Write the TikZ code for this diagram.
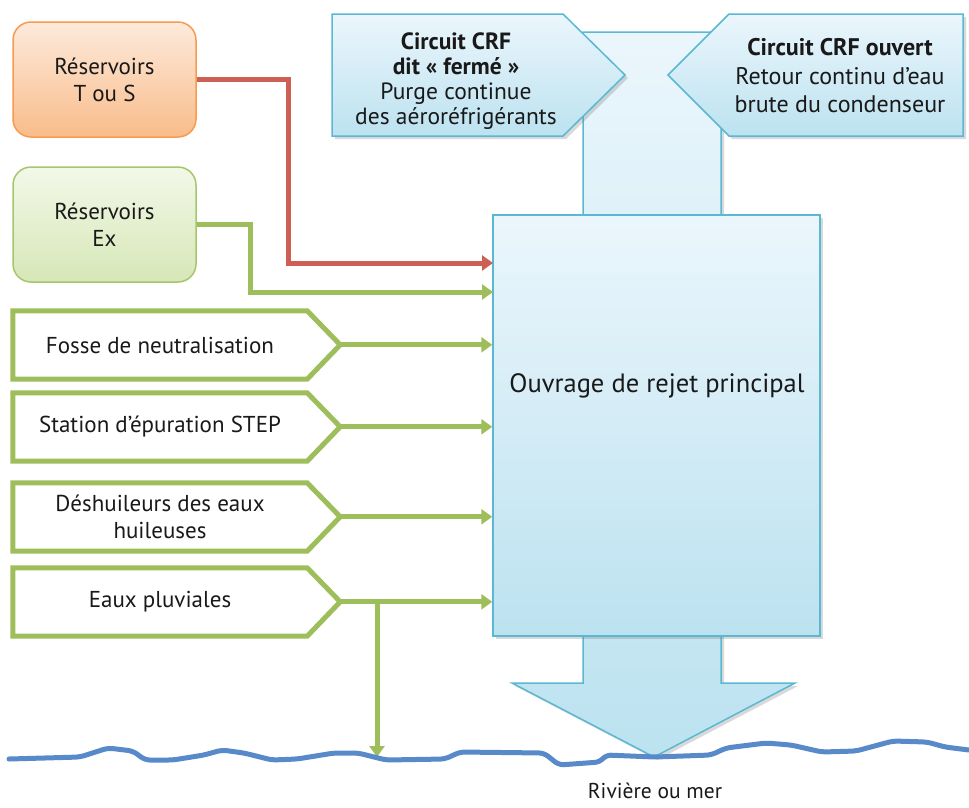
\documentclass[tikz,border=0pt]{standalone}
\usepackage{fontspec}
\setmainfont{PT Sans}
\usetikzlibrary{arrows.meta,shadows}

\definecolor{flowgreen}{RGB}{158,190,92}
\definecolor{flowred}{RGB}{205,95,85}
\definecolor{orangeedge}{RGB}{247,155,80}
\definecolor{orangetop}{RGB}{253,234,220}
\definecolor{orangebot}{RGB}{249,188,138}
\definecolor{greenedge}{RGB}{165,198,110}
\definecolor{greentop}{RGB}{243,248,232}
\definecolor{greenbot}{RGB}{214,231,183}
\definecolor{blueedge}{RGB}{90,184,210}
\definecolor{bluetop}{RGB}{235,246,252}
\definecolor{bluebot}{RGB}{188,226,240}
\definecolor{riverblue}{RGB}{88,138,202}
\definecolor{ink}{RGB}{25,25,25}

\tikzstyle{every node}=[text=ink,align=center,font=\fontsize{23}{27}\selectfont]
\tikzstyle{tank}=[rounded corners=18pt,line width=1.5pt,minimum width=183pt,minimum height=115pt]
\tikzstyle{tankTS}=[tank,draw=orangeedge,top color=orangetop,bottom color=orangebot]
\tikzstyle{tankEx}=[tank,draw=greenedge,top color=greentop,bottom color=greenbot]
\tikzstyle{source}=[minimum width=294pt,minimum height=68pt,inner sep=0pt]
\tikzstyle{sourceline}=[draw=flowgreen,line width=5pt,line join=miter]
\tikzstyle{flow}=[line width=5pt,-{Triangle[length=11pt,width=15pt]}]
\tikzstyle{greenflow}=[flow,draw=flowgreen]
\tikzstyle{redflow}=[flow,draw=flowred]
\tikzstyle{bluebox}=[draw=blueedge,line width=1.5pt,top color=bluetop,bottom color=bluebot,
  drop shadow={opacity=0.3,shadow xshift=3pt,shadow yshift=-3pt}]
\tikzstyle{river}=[draw=riverblue,line width=5pt,line join=round,line cap=round,rounded corners=5pt]

\begin{document}
\begin{tikzpicture}[x=1pt,y=-1pt]
  \useasboundingbox (0,0) rectangle (969,807);

  % outfall column and arrow, behind everything
  \path[bluebox] (583,32) -- (721,32) -- (721,683) -- (795,683) -- (654,757)
    -- (512,683) -- (583,683) -- cycle;

  % cooling circuit inputs
  \path[bluebox] (332,14) -- (563,14) -- (625,75) -- (563,136) -- (332,136) -- cycle;
  \path[bluebox] (963,14) -- (729,14) -- (668,75) -- (729,136) -- (963,136) -- cycle;
  \node[font=\fontsize{23.5}{25}\selectfont] (ferme) at (456,81)
    {\textbf{Circuit CRF}\\\textbf{dit « fermé »}\\Purge continue\\des aéroréfrigérants};
  \node[font=\fontsize{24}{28.5}\selectfont] (ouvert) at (840,76)
    {\textbf{Circuit CRF ouvert}\\Retour continu d’eau\\brute du condenseur};

  \node[bluebox,minimum width=327pt,minimum height=421pt] (main) at (656.5,425.5) {};
  \node[font=\fontsize{26.5}{30}\selectfont] (mainlabel) at (657,386) {Ouvrage de rejet principal};

  % reservoirs
  \node[tankTS] (tous) at (104.5,79.5) {Réservoirs\\T ou S};
  \node[tankEx] (ex) at (104.5,224.5) {Réservoirs\\Ex};

  % treatment units
  \node[source] (fosse) at (160,345) {Fosse de neutralisation};
  \node[source] (step) at (160,427) {Station d’épuration STEP};
  \node[source] (deshuil) at (160,517) {\fontsize{23}{26}\selectfont Déshuileurs des eaux\\huileuses};
  \node[source] (pluv) at (160,602) {Eaux pluviales};
  \draw[sourceline] (fosse.north west) -- (fosse.north east) -- ++(33,34) coordinate (fosse tip)
    -- (fosse.south east) -- (fosse.south west) -- cycle;
  \draw[sourceline] (step.north west) -- (step.north east) -- ++(33,34) coordinate (step tip)
    -- (step.south east) -- (step.south west) -- cycle;
  \draw[sourceline] (deshuil.north west) -- (deshuil.north east) -- ++(33,34) coordinate (deshuil tip)
    -- (deshuil.south east) -- (deshuil.south west) -- cycle;
  \draw[sourceline] (pluv.north west) -- (pluv.north east) -- ++(33,34) coordinate (pluv tip)
    -- (pluv.south east) -- (pluv.south west) -- cycle;

  % flows into the main outfall
  \coordinate (inTS) at (493,263);
  \coordinate (inEx) at (493,292);
  \draw[redflow] (tous.east) -- ++(92,0) |- (inTS);
  \draw[greenflow] (ex.east) -- ++(54,0) |- (inEx);
  \draw[greenflow] (fosse tip) -- (fosse tip -| main.west);
  \draw[greenflow] (step tip) -- (step tip -| main.west);
  \draw[greenflow] (deshuil tip) -- (deshuil tip -| main.west);
  \draw[greenflow] (pluv tip) -- (pluv tip -| main.west);
  \coordinate (sea) at (377,757);
  \draw[greenflow] (pluv tip -| sea) -- (sea);

  % water surface
  \draw[river] (9,759) -- (80,757) -- (108,748) -- (133,751) -- (145,760) -- (173,760)
    -- (204,755) -- (222,750) -- (244,753) -- (272,760) -- (297,759) -- (334,753)
    -- (358,753) -- (386,760) -- (445,759) -- (460,752) -- (544,753) -- (559,765)
    -- (600,762) -- (606,755) -- (655,757) -- (711,755) -- (726,748) -- (766,743)
    -- (791,745) -- (822,752) -- (856,751) -- (893,741) -- (927,742) -- (945,747)
    -- (969,750);
  \node[font=\fontsize{21.5}{24}\selectfont,inner sep=1pt] (sealabel) at (655,791) {Rivière ou mer};
\end{tikzpicture}
\end{document}
